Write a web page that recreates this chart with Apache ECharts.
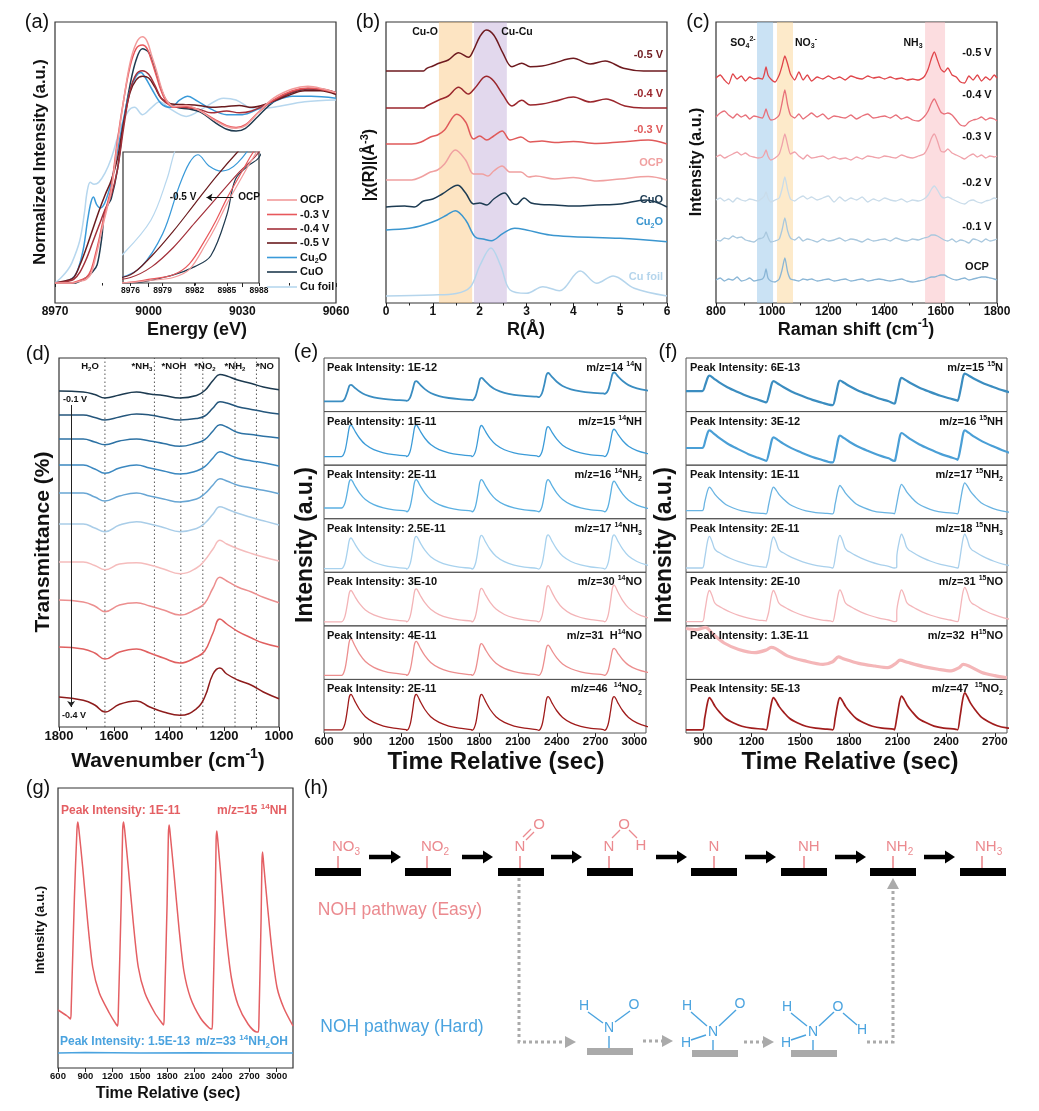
<!DOCTYPE html>
<html>
<head>
<meta charset="utf-8">
<script src="https://cdn.jsdelivr.net/npm/echarts@6/dist/echarts.min.js"></script>
<style>
  html, body { margin: 0; background: #fff; }
  #main { width: 1039px; height: 1111px; }
</style>
</head>
<body>
<div id="main"></div>
<script>
const FONT = '"Liberation Sans", Arial, sans-serif'
const NARROW = '"Liberation Sans Narrow", "Liberation Sans", Arial, sans-serif'

// ---------- (a) XANES, [eV, normalized] ----------
const aNames = ['OCP', '-0.3 V', '-0.4 V', '-0.5 V', 'Cu_{2}O', 'CuO', 'Cu foil']
const aColors = ['#f29a9a', '#e8585c', '#a3303a', '#6a1b1e', '#3a9ad9', '#1f3a4f', '#b7d7ee']
const aOCP = [[8970,0],[8975,0],[8978,0.01],[8980,0.02],[8981.5,0.05],[8983,0.14],[8984,0.21],[8985,0.29],[8986,0.36],[8987,0.43],[8988,0.5],[8990,0.76],[8992,1.0],[8994,1.2],[8996,1.31],[8998,1.345],[8999.5,1.32],[9001,1.24],[9002.5,1.16],[9004,1.07],[9005.7,1.0],[9008,0.965],[9012,0.97],[9016,0.945],[9021,0.89],[9025,0.855],[9028,0.845],[9031,0.86],[9035,0.93],[9040,1.01],[9046,1.06],[9051,1.075],[9056,1.06],[9060,1.04]]
const aM03 = [[8970,0],[8975,0],[8978,0.015],[8980,0.03],[8981.5,0.07],[8983,0.16],[8984,0.23],[8985,0.31],[8986,0.38],[8987,0.45],[8988,0.52],[8990,0.78],[8992,1.0],[8994,1.18],[8996,1.28],[8998,1.30],[8999.5,1.28],[9001,1.21],[9002.5,1.13],[9004,1.05],[9005.7,0.99],[9008,0.96],[9012,0.965],[9016,0.945],[9021,0.895],[9025,0.86],[9028,0.85],[9031,0.865],[9035,0.93],[9040,1.0],[9046,1.05],[9051,1.065],[9056,1.055],[9060,1.04]]
const aM04 = [[8970,0],[8974,0.01],[8976,0.02],[8978,0.06],[8980,0.13],[8982,0.22],[8984,0.31],[8986,0.40],[8988,0.48],[8990,0.62],[8992,0.85],[8994,1.05],[8996,1.14],[8998,1.16],[9000,1.14],[9002,1.08],[9004,1.01],[9007,0.97],[9011,0.96],[9016,0.95],[9020,0.93],[9025,0.94],[9029,0.93],[9033,0.94],[9038,0.98],[9044,1.03],[9050,1.06],[9055,1.06],[9060,1.04]]
const aM05 = [[8970,0],[8974,0.015],[8976,0.03],[8978,0.1],[8980,0.19],[8982,0.29],[8984,0.39],[8986,0.48],[8988,0.56],[8990,0.68],[8992,0.88],[8994,1.04],[8996,1.11],[8998,1.13],[9000,1.12],[9002,1.07],[9004,1.01],[9007,0.98],[9011,0.975],[9016,0.97],[9020,0.96],[9025,0.965],[9029,0.97],[9033,0.96],[9038,0.98],[9044,1.02],[9050,1.05],[9055,1.05],[9060,1.03]]
const aCu2O = [[8970,0],[8975,0.02],[8977,0.06],[8979,0.18],[8980.5,0.35],[8981.5,0.44],[8982.3,0.47],[8983.3,0.43],[8984.5,0.41],[8986,0.44],[8988,0.55],[8990,0.72],[8992,0.9],[8994,1.05],[8996,1.13],[8997.5,1.15],[8999,1.12],[9001,1.06],[9004,0.98],[9007,0.96],[9010,1.0],[9012.5,1.02],[9015,1.0],[9020,0.95],[9025,0.92],[9030,0.92],[9035,0.95],[9040,0.99],[9046,1.02],[9052,1.02],[9060,1.01]]
const aCuO = [[8970,0],[8976,0],[8980,0.03],[8982,0.06],[8983.5,0.1],[8985,0.25],[8985.8,0.38],[8987,0.43],[8988,0.46],[8990,0.62],[8992,0.88],[8994,1.08],[8996,1.22],[8998,1.28],[9000,1.26],[9002,1.17],[9004,1.06],[9006,0.99],[9009,0.96],[9013,0.95],[9017,0.93],[9021,0.88],[9025,0.84],[9028,0.83],[9031,0.845],[9035,0.91],[9040,0.99],[9046,1.04],[9051,1.06],[9056,1.055],[9060,1.04]]
const aCuFoil = [[8970,0],[8972,0.03],[8974,0.07],[8975.4,0.11],[8977.9,0.23],[8979.4,0.38],[8980.3,0.5],[8981.3,0.55],[8982.5,0.54],[8984,0.55],[8986,0.6],[8988,0.68],[8991,0.85],[8993.5,0.94],[8995.5,0.96],[8998,0.92],[9001,0.96],[9003.5,0.99],[9007,0.95],[9012,0.91],[9018,0.96],[9024,1.01],[9028,1.0],[9034,0.95],[9040,0.96],[9050,0.99],[9060,1.0]]
const aCurves = [aOCP, aM03, aM04, aM05, aCu2O, aCuO, aCuFoil]
const aInsetTicks = [8976, 8979, 8982, 8985, 8988]

// ---------- (b) FT-EXAFS, [R, height above own baseline] ----------
const bNames = ['-0.5 V', '-0.4 V', '-0.3 V', 'OCP', 'CuO', 'Cu_{2}O', 'Cu foil']
const bColors = ['#6e1a1f', '#9a262c', '#e05a5a', '#f0a0a0', '#1d3b52', '#3b96cf', '#b5d5ec']
const bOffsets = [232, 195, 159, 123, 96, 63, 7]
const bM05 = [[0,0],[0.8,0],[0.87,2.7],[1.0,5],[1.13,7.7],[1.33,11],[1.55,18.3],[1.76,13.7],[1.87,21],[2.0,34],[2.14,41],[2.3,36],[2.5,17.7],[2.69,4.3],[2.9,7.7],[3.08,4.3],[3.33,5],[3.58,7.7],[4.0,12.7],[4.36,7],[4.68,10],[5.07,2.7],[5.5,0],[6,0]]
const bM04 = [[0,0],[0.8,0],[0.87,2],[1.13,8],[1.33,12],[1.55,20.7],[1.76,14],[1.9,20],[2.14,31.7],[2.3,27],[2.5,13],[2.69,2],[2.9,7.7],[3.08,3],[3.33,4],[3.6,6.7],[4.0,11],[4.36,6],[4.7,9],[5.1,2],[5.5,0],[6,0]]
const bM03 = [[0,0],[0.55,0],[0.75,2],[0.95,7],[1.1,9],[1.25,14],[1.51,29.7],[1.7,22],[1.87,5],[2.0,8],[2.15,4],[2.3,8],[2.48,13],[2.65,4],[2.88,7],[3.08,2],[3.33,3],[3.6,1.5],[4.0,2.5],[4.5,0.5],[5.0,2],[5.6,4],[6,0]]
const bOCP = [[0,0],[0.55,0],[0.75,3],[0.95,8],[1.1,10],[1.25,16],[1.48,30],[1.7,20],[1.87,6],[2.05,6],[2.18,4],[2.3,9],[2.48,14],[2.65,8],[2.88,8],[3.05,3],[3.2,4],[3.6,1],[4.0,2.5],[4.5,-1],[5.0,1],[5.6,3.5],[6,0]]
const bCuO = [[0,0],[0.4,1],[0.6,0],[0.8,6],[1.0,8],[1.2,13],[1.53,21.7],[1.7,14],[1.87,3],[2.0,4],[2.15,2],[2.3,8],[2.53,14],[2.7,4],[2.78,2.5],[2.95,9],[3.1,4],[3.3,2.5],[3.6,2],[4.0,1],[4.5,2],[5.0,3],[5.55,7],[6,0]]
const bCu2O = [[0,10],[0.5,11.7],[0.8,15],[1.1,20],[1.3,25],[1.48,29.3],[1.7,20],[1.9,3.3],[2.1,0.7],[2.25,-0.7],[2.5,6.7],[2.75,11.7],[3.0,10],[3.5,5],[4.0,3.3],[5.0,1.7],[6,-1.7]]
const bCuFoil = [[0,0],[1,1],[1.5,2.5],[1.8,9],[2.0,30],[2.24,48],[2.45,30],[2.65,6],[3.0,2.7],[3.35,9.3],[3.7,5.3],[4.15,25],[4.5,12.7],[4.85,20],[5.3,7.7],[6,0]]
const bCurves = [bM05, bM04, bM03, bOCP, bCuO, bCu2O, bCuFoil]
const bLabelY = [55, 94, 130, 163, 200, 222, 277]

// ---------- (c) Raman ----------
const cX = [800,815,830,845,860,875,890,905,920,935, 950,965,972,978,985,995,1010,1025,1035,1045, 1055,1065,1080,1095,1110,1125,1140,1160,1180,1200, 1220,1240,1260,1280,1300,1320,1340,1360,1380,1400, 1420,1440,1460,1480,1500,1520,1540,1555,1567,1577, 1588,1600,1612,1625,1640,1655,1670,1685,1700,1715, 1730,1745,1760,1775,1790,1800]
const cNames = ['-0.5 V', '-0.4 V', '-0.3 V', '-0.2 V', '-0.1 V', 'OCP']
const cColors = ['#e0454a', '#e8707a', '#f0a2aa', '#c9dcea', '#a9c8de', '#8ab6d6']
const cOffsets = [225, 186, 146, 103, 63, 23]
const cM05 = [0,3,-2,-6,4,-1,2,-3,1,-1, 0,-1,4,11,3,-1,-4,3,12,22, 14,4,-2,6,-2,3,-3,1,-1,2, -1,1,-2,2,0,-1,2,0,1,-1, 1,-1,0,-2,-1,-2,1,9,20,26, 18,9,6,10,3,1,-4,-5,2,-2, 3,-3,1,-2,3,0]
const cM04 = [0,4,6,2,-1,3,0,2,-2,1, 0,-1,3,8,2,-3,-2,2,14,27, 12,2,-1,3,-2,1,4,0,3,-2, 1,0,-1,2,-2,1,3,-1,0,1, -1,2,-2,0,-3,-4,0,6,14,18, 12,5,3,4,2,-3,-8,-9,-5,-3, -2,0,-3,-1,-2,-4]
const cM03 = [0,2,-1,1,3,5,2,4,1,0, -1,0,3,7,1,-3,-1,3,12,23, 12,3,5,1,-2,2,-1,0,1,-2, 0,-2,-1,-3,0,-2,1,0,-1,1, 0,-1,2,0,-1,1,3,10,19,23, 16,6,5,8,4,2,0,-2,1,3, 0,2,-1,1,0,1]
const cM02 = [0,2,-1,1,-2,2,0,-1,1,0, -1,2,4,8,2,-2,0,2,11,23, 10,1,-1,2,4,1,3,0,2,4, -2,3,-1,2,0,3,-2,1,-1,2, 0,-1,1,-2,0,-1,1,5,11,14, 10,4,2,3,1,-1,-3,-4,-1,0, -2,-3,-1,0,2,1]
const cM01 = [0,-1,2,1,4,2,3,0,-1,-2, 1,2,4,8,3,-2,-1,1,10,22, 9,2,0,3,-1,1,0,-2,1,-1, 0,2,-1,1,0,-2,1,-1,0,1, -1,2,0,-1,1,0,2,3,5,5, 4,2,0,-1,1,-2,0,-1,-3,1, 0,-2,1,-1,0,1]
const cOCP = [0,2,-1,1,0,3,-1,0,2,-1, 0,1,4,11,2,-1,-2,1,10,22, 8,1,0,-1,1,0,1,-1,0,1, -1,0,1,-1,0,1,-1,0,1,0, -1,0,1,-1,-2,-1,0,2,3,3, 4,5,5,3,1,0,1,2,0,1, 2,3,3,2,1,0]
const cCurves = [cM05, cM04, cM03, cM02, cM01, cOCP]
const cLabelY = [53, 95, 137, 183, 227, 267]

// ---------- (d) in-situ IR ----------
const dX = [1800,1712,1670,1633,1580,1518,1470,1420,1360,1300,1270,1240,1215,1190,1150,1100,1057,1000]
const dColors = ['#1c3a50', '#24567c', '#2d72a4', '#3b88c0', '#68a6d4', '#a9cde8', '#f5bcbc', '#ec8f8f', '#e06060', '#8e1c1c']
const dOffsets = [336, 312, 288, 262, 234, 203, 165, 127, 80, 30]
const dCurves = [
  [0,-1,-3.5,-7,-4,-1,-3,-4.5,-7,-4.5,0.5,10.5,16.5,15,11,7.5,4,1.3],
  [0,0,-2.5,-5,-2,1,0,-2.5,-5,-3.5,-1,7,13.3,12,8.3,5.5,3.3,1],
  [0,0,-3,-5.7,-2,0,-2,-4.5,-7.3,-4,-0.7,8,14.3,12,6.5,4.5,2.7,1],
  [0,0,-4,-8.3,-3,0,-3,-6,-9,-6,-1.7,7,13.3,11,6.7,4,2.3,-1],
  [0,0,-4,-8,-3,0,-3,-6,-9,-6,-0.7,8,14.3,12,7.7,5,2.7,-0.7],
  [0,0,-4,-7.7,-1,2.3,0,-3.5,-7.7,-4.5,0.7,10,17.3,15,10.7,6.5,3.3,-1],
  [0,0,-3.5,-7.7,-2,-0.7,-3,-7,-11.7,-6,1.7,13,21.7,18,13.3,8.5,5,1],
  [0,-2,-6,-11.7,-5,-2.7,-6,-10,-15,-9,-3.3,12,22.7,19,13,8,2.7,-2.7],
  [0,-2,-6,-12,-5,-2,-6,-11,-16,-10,-4,14,28,23,15.7,9,4,0],
  [0,-3.3,-8,-15,-7.3,-4,-10,-15,-18.3,-11.7,0,23,29,23,17,11.7,5,-1.7],
]
const dMarks = [1633, 1453, 1357, 1277, 1160, 1082]
const dMarkNames = ['H_{2}O', '*NH_{3}', '*NOH', '*NO_{2}', '*NH_{2}', '*NO']

// ---------- (e) 14N isotope mass spectra ----------
const eShape = [[-70,0],[-45,0.15],[-25,0.55],[-12,0.88],[-4,0.98],[4,1],[15,0.95],[35,0.8],[70,0.58],[115,0.38],[180,0.22],[255,0.12],[335,0.06],[430,0.02]]
const eTimes = [805, 1310, 1815, 2330, 2840]
const eColors = ['#3a8dc1', '#3b9bd8', '#5bb0e2', '#a8d2ee', '#f3b3b6', '#ec8e8e', '#a01b1b']
const ePeaks = [
  [0.5, 0.57, 0.63, 0.72, 0.73],
  [0.75, 0.75, 0.74, 0.72, 0.67],
  [0.73, 0.73, 0.73, 0.73, 0.7],
  [0.64, 0.67, 0.69, 0.7, 0.7],
  [0.66, 0.69, 0.7, 0.75, 0.76],
  [0.76, 0.71, 0.67, 0.64, 0.58],
  [0.72, 0.72, 0.72, 0.68, 0.68],
]
const eLevels = [
  [0.19, 0.2, 0.21, 0.27, 0.33, 0.35],
  [0.16, 0.16, 0.16, 0.16, 0.16, 0.16],
  [0.2, 0.13, 0.13, 0.13, 0.13, 0.13],
  [0.07, 0.06, 0.06, 0.06, 0.06, 0.06],
  [0.075, 0.075, 0.075, 0.075, 0.075, 0.075],
  [0.075, 0.075, 0.075, 0.075, 0.075, 0.075],
  [0.06, 0.05, 0.05, 0.05, 0.05, 0.05],
]
const eLeft = ['1E-12', '1E-11', '2E-11', '2.5E-11', '3E-10', '4E-11', '2E-11']
const eRight = ['m/z=14 ^{14}N', 'm/z=15 ^{14}NH', 'm/z=16 ^{14}NH_{2}', 'm/z=17 ^{14}NH_{3}', 'm/z=30 ^{14}NO', 'm/z=31  H^{14}NO', 'm/z=46  ^{14}NO_{2}']

// ---------- (f) 15N isotope mass spectra ----------
const fShapeBroad = [[-45,0],[-25,0.45],[-10,0.9],[0,1],[25,0.9],[60,0.75],[110,0.57],[170,0.4],[240,0.22],[300,0.1],[340,0.02]]
const fShape = [[-45,0],[-30,0.35],[-12,0.85],[0,1],[15,0.9],[35,0.72],[62,0.55],[100,0.35],[146,0.22],[200,0.11],[260,0.05],[330,0.02]]
const fShapeKink = [[-45,0],[-30,0.3],[-12,0.85],[0,1],[15,0.85],[30,0.62],[45,0.53],[60,0.49],[90,0.4],[130,0.3],[180,0.2],[240,0.11],[300,0.05],[350,0.02]]
const fTimes = [940, 1335, 1745, 2125, 2515]
const fColors = ['#3b8dc0', '#4a9fd6', '#6ab4e2', '#a9d0ec', '#f4b6ba', '#f4b6b8', '#a11d1d']
const fPeaks = [
  [0.67, 0.57, 0.58, 0.63, 0.71],
  [0.65, 0.52, 0.55, 0.6, 0.65],
  [0.59, 0.59, 0.62, 0.64, 0.67],
  [0.67, 0.66, 0.69, 0.71, 0.71],
  [0.66, 0.66, 0.67, 0.67, 0.72],
  null,
  [0.66, 0.66, 0.66, 0.69, 0.75],
]
const fLevels = [
  [0.38, 0.17, 0.12, 0.15, 0.2, 0.3],
  [0.32, 0.08, 0.05, 0.08, 0.1, 0.16],
  [0.15, 0.09, 0.09, 0.09, 0.09, 0.1],
  [0.08, 0.08, 0.08, 0.08, 0.08, 0.08],
  [0.08, 0.08, 0.08, 0.08, 0.08, 0.08],
  null,
  [0.06, 0.06, 0.06, 0.06, 0.06, 0.06],
]
const fH15NO = [[795,0.95],[860,0.93],[915,0.97],[960,0.85],[1030,0.68],[1120,0.56],[1220,0.5],[1290,0.55],[1320,0.6],[1345,0.58],[1420,0.44],[1520,0.35],[1640,0.28],[1700,0.33],[1735,0.42],[1770,0.38],[1860,0.3],[1960,0.25],[2040,0.22],[2090,0.3],[2115,0.36],[2160,0.32],[2260,0.24],[2350,0.19],[2430,0.16],[2480,0.22],[2505,0.28],[2540,0.25],[2620,0.13],[2700,0.07],[2775,0.03]]
const fLeft = ['6E-13', '3E-12', '1E-11', '2E-11', '2E-10', '1.3E-11', '5E-13']
const fRight = ['m/z=15 ^{15}N', 'm/z=16 ^{15}NH', 'm/z=17 ^{15}NH_{2}', 'm/z=18 ^{15}NH_{3}', 'm/z=31 ^{15}NO', 'm/z=32  H^{15}NO', 'm/z=47  ^{15}NO_{2}']
const fTicks = [900, 1200, 1500, 1800, 2100, 2400, 2700]

// ---------- (g) NH vs NH2OH ----------
const gRed = [[600,58],[700,52],[738,49],[745,60],[780,170],[808,238],[818,246],[830,238],[872,200],[927,145],[981,101],[1054,75],[1163,55],[1229,45],[1255,42],
  [1262,55],[1295,170],[1310,238],[1320,246],[1332,238],[1372,200],[1427,145],[1481,101],[1554,75],[1663,55],[1740,45],[1760,43],
  [1767,55],[1798,165],[1812,234],[1821,243],[1833,233],[1873,195],[1928,140],[1982,97],[2055,70],[2164,50],[2260,40],[2290,39],
  [2297,50],[2325,160],[2336,228],[2344,237],[2356,226],[2395,185],[2450,130],[2504,90],[2577,63],[2686,44],[2780,36],[2800,36],
  [2806,48],[2830,150],[2839,206],[2846,216],[2858,204],[2897,165],[2952,115],[3006,80],[3079,60],[3180,42]]
const gBlue = [[600,15],[900,15.5],[1500,15],[2100,15.3],[2700,15],[3180,15]]

// ---------- helpers ----------
function rt(str, size, weight, family, color) {
  const base = { fontSize: size, fontWeight: weight, fontFamily: family, fill: color, lineHeight: Math.round(size * 1.35) }
  const small = Object.assign({}, base, { fontSize: Math.round(size * 0.68), lineHeight: Math.round(size * 0.72) })
  const rich = { n: base, p: Object.assign({}, small, { verticalAlign: 'top' }), b: Object.assign({}, small, { verticalAlign: 'bottom' }) }
  const re = /([\^_])\{([^}]*)\}/g
  let out = ''
  let last = 0
  let m
  while ((m = re.exec(str))) {
    if (m.index > last) out += '{n|' + str.slice(last, m.index) + '}'
    out += '{' + (m[1] === '^' ? 'p' : 'b') + '|' + m[2] + '}'
    last = re.lastIndex
  }
  if (last < str.length) out += '{n|' + str.slice(last) + '}'
  return { text: out, rich }
}

const graphics = []
function T(x, y, str, o = {}) {
  const size = o.size || 12
  const weight = o.weight || 'normal'
  const family = o.family || FONT
  const color = o.color || '#111'
  const r = rt(str, size, weight, family, color)
  graphics.push({
    type: 'text', x, y, rotation: o.rot || 0, z: 100, silent: true,
    style: {
      text: r.text, rich: r.rich, fill: color, fontSize: size, fontWeight: weight, fontFamily: family,
      align: o.align || 'center', verticalAlign: 'middle', textAlign: o.align || 'center', textVerticalAlign: 'middle',
    },
  })
}
function L(x1, y1, x2, y2, color, w, dash) {
  graphics.push({ type: 'line', z: 100, silent: true, shape: { x1, y1, x2, y2 }, style: { stroke: color, lineWidth: w, lineDash: dash || null } })
}
function R(x, y, w, h, color) {
  graphics.push({ type: 'rect', z: 100, silent: true, shape: { x, y, width: w, height: h }, style: { fill: color } })
}
function P(points, color) {
  graphics.push({ type: 'polygon', z: 100, silent: true, shape: { points }, style: { fill: color } })
}

const grids = []
const xAxes = []
const yAxes = []
const series = []
const fmt = v => String(v)

function addGrid(box, xa, ya) {
  grids.push(Object.assign({ show: true, borderColor: '#333', borderWidth: 1.2, backgroundColor: 'transparent', containLabel: false }, box))
  const gi = grids.length - 1
  xAxes.push(Object.assign({ gridIndex: gi, type: 'value', splitLine: { show: false }, axisLine: { show: false } }, xa))
  yAxes.push(Object.assign({ gridIndex: gi, type: 'value', splitLine: { show: false }, axisLine: { show: false }, axisTick: { show: false }, axisLabel: { show: false } }, ya))
  return gi
}
function xTicks(min, max, interval, size, family, extra) {
  return Object.assign({
    min, max, interval,
    axisTick: { show: true, length: 4, lineStyle: { color: '#222', width: 1 } },
    minorTick: { show: true, splitNumber: 2, length: 2.5, lineStyle: { color: '#222' } },
    axisLabel: { color: '#111', fontWeight: 'bold', fontSize: size, fontFamily: family || FONT, margin: 3, formatter: fmt },
  }, extra || {})
}
function line(gi, data, color, width, o) {
  series.push(Object.assign({
    type: 'line', xAxisIndex: gi, yAxisIndex: gi, data, showSymbol: false, symbol: 'none', smooth: 0.35,
    lineStyle: { color, width }, silent: true, animation: false,
  }, o || {}))
}
function bands(gi, y0, list, z) {
  series.push({
    type: 'line', xAxisIndex: gi, yAxisIndex: gi, data: [[list[0][0], y0]], symbol: 'none', lineStyle: { opacity: 0 }, z: z || 5, silent: true,
    markArea: { silent: true, data: list.map(b => [{ xAxis: b[0], itemStyle: { color: b[2] } }, { xAxis: b[1] }]) },
  })
}
function buildPeaks(times, peaks, levels, shape, xmin) {
  const pts = [[xmin, levels[0]]]
  times.forEach((t, i) => {
    shape.forEach(([dt, r]) => {
      const base = dt < 0 ? levels[i] : levels[i + 1]
      pts.push([t + dt, base + (peaks[i] - base) * r])
    })
  })
  return pts.sort((a, b) => a[0] - b[0])
}

// ---------- panel (a) ----------
const gA = addGrid({ left: 55, top: 22, width: 281, height: 281 },
  xTicks(8970, 9060, 30, 12), { min: -0.109, max: 1.426 })
const gAi = addGrid({ left: 123, top: 152, width: 136, height: 131, backgroundColor: '#fff' },
  { min: 8975.3, max: 8988,
    axisTick: { show: true, length: 3, customValues: aInsetTicks, lineStyle: { color: '#222' } },
    axisLabel: { show: true, customValues: aInsetTicks, color: '#111', fontWeight: 'bold', fontSize: 8.5, fontFamily: FONT, margin: 3, formatter: fmt } },
  { min: 0, max: 0.48 })
for (let i = aCurves.length - 1; i >= 0; i--) {
  line(gA, aCurves[i], aColors[i], 1.5)
  line(gAi, aCurves[i], aColors[i], 1.2, { z: 3 })
}
series.push({
  type: 'lines', coordinateSystem: 'cartesian2d', xAxisIndex: gAi, yAxisIndex: gAi, z: 6, silent: true,
  symbol: ['none', 'arrow'], symbolSize: 6, lineStyle: { color: '#111', width: 1.2, opacity: 1 },
  data: [{ coords: [[8985.6, 0.313], [8983.1, 0.313]] }],
})
T(183, 197, '-0.5 V', { size: 10, weight: 'bold' })
T(249, 197, 'OCP', { size: 10, weight: 'bold' })
const aLegY = [200, 214.5, 229, 243, 257.5, 272, 287]
aNames.forEach((n, i) => {
  L(267, aLegY[i], 297, aLegY[i], aColors[i], 1.6)
  T(300, aLegY[i], n, { size: 11, weight: 'bold', align: 'left' })
})
T(37, 22, '(a)', { size: 20 })
T(40, 162, 'Normalized Intensity (a.u.)', { size: 16.5, weight: 'bold', rot: Math.PI / 2 })
T(197, 330, 'Energy (eV)', { size: 18, weight: 'bold' })

// ---------- panel (b) ----------
const gB = addGrid({ left: 386, top: 22, width: 281, height: 281 }, xTicks(0, 6, 1, 12), { min: 0, max: 281 })
bCurves.forEach((c, i) => line(gB, c.map(p => [p[0], bOffsets[i] + p[1]]), bColors[i], 1.5))
bands(gB, 0, [[1.13, 1.84, 'rgba(250,196,120,0.45)'], [1.88, 2.58, 'rgba(190,168,214,0.45)']])
bNames.forEach((n, i) => T(663, bLabelY[i], n, { size: 11, weight: 'bold', color: bColors[i], align: 'right' }))
T(425, 32, 'Cu-O', { size: 10.5, weight: 'bold' })
T(517, 32, 'Cu-Cu', { size: 10.5, weight: 'bold' })
T(368, 22, '(b)', { size: 20 })
T(370, 165, '|χ(R)|(Å^{-3})', { size: 16, weight: 'bold', rot: Math.PI / 2 })
T(526, 330, 'R(Å)', { size: 18, weight: 'bold' })

// ---------- panel (c) ----------
const gC = addGrid({ left: 716, top: 22, width: 281, height: 281 }, xTicks(800, 1800, 200, 12), { min: 0, max: 281 })
cCurves.forEach((c, i) => line(gC, cX.map((x, j) => [x, cOffsets[i] + c[j]]), cColors[i], 1.3, { smooth: 0.2 }))
bands(gC, 0, [[946, 1003, 'rgba(150,198,234,0.5)'], [1017, 1074, 'rgba(252,214,150,0.5)'], [1544, 1615, 'rgba(250,188,194,0.5)']])
cNames.forEach((n, i) => T(977, cLabelY[i], n, { size: 11, weight: 'bold' }))
T(743, 43, 'SO_{4}^{2-}', { size: 10.5, weight: 'bold' })
T(806, 43, 'NO_{3}^{-}', { size: 10.5, weight: 'bold' })
T(913, 43, 'NH_{3}', { size: 10.5, weight: 'bold' })
T(698, 22, '(c)', { size: 20 })
T(697, 162, 'Intensity (a.u.)', { size: 16, weight: 'bold', rot: Math.PI / 2 })
T(856, 330, 'Raman shift (cm^{-1})', { size: 18, weight: 'bold' })

// ---------- panel (d) ----------
const gD = addGrid({ left: 59, top: 358, width: 220, height: 369 },
  xTicks(1000, 1800, 200, 13, FONT, { inverse: true }), { min: 0, max: 369 })
dMarks.forEach(w => line(gD, [[w, 0], [w, 369]], '#444', 0.9, { smooth: false, lineStyle: { color: '#444', width: 0.9, type: [1.5, 2.5] } }))
dCurves.forEach((c, i) => line(gD, dX.map((x, j) => [x, dOffsets[i] + c[j]]), dColors[i], 1.5, { smooth: 0.45 }))
series.push({
  type: 'lines', coordinateSystem: 'cartesian2d', xAxisIndex: gD, yAxisIndex: gD, z: 6, silent: true,
  symbol: ['none', 'arrow'], symbolSize: 6, lineStyle: { color: '#222', width: 1, opacity: 1 },
  data: [{ coords: [[1756, 322], [1756, 20]] }],
})
const dLabX = [90, 142, 174, 205, 235, 265]
dMarkNames.forEach((n, i) => T(dLabX[i], 366, n, { size: 9.5, weight: 'bold' }))
T(63, 400, '-0.1 V', { size: 9, weight: 'bold', align: 'left' })
T(62, 716, '-0.4 V', { size: 9, weight: 'bold', align: 'left' })
T(38, 354, '(d)', { size: 20 })
T(43, 542, 'Transmittance (%)', { size: 21, weight: 'bold', rot: Math.PI / 2 })
T(168, 761, 'Wavenumber (cm^{-1})', { size: 21, weight: 'bold' })

// ---------- panels (e) and (f) ----------
const subH = 375 / 7
for (let i = 0; i < 7; i++) {
  const top = 358 + i * subH
  const last = i === 6
  const ge = addGrid({ left: 324, top, width: 322, height: subH, borderColor: '#555', borderWidth: 1 },
    last ? xTicks(600, 3090, 300, 11.5, NARROW, { minorTick: { show: false } })
      : { min: 600, max: 3090, axisTick: { show: false }, axisLabel: { show: false } },
    { min: 0, max: 1 })
  line(ge, buildPeaks(eTimes, ePeaks[i], eLevels[i], eShape, 600), eColors[i], i === 0 ? 1.8 : 1.3, { smooth: 0.3 })
  T(327, top + 10, 'Peak Intensity: ' + eLeft[i], { size: 11, weight: 'bold', family: NARROW, align: 'left' })
  T(642, top + 10, eRight[i], { size: 11, weight: 'bold', family: NARROW, align: 'right' })

  const gf = addGrid({ left: 686, top, width: 321, height: subH, borderColor: '#555', borderWidth: 1 },
    last ? { min: 795, max: 2775,
      axisTick: { show: true, length: 4, customValues: fTicks, lineStyle: { color: '#222' } },
      axisLabel: { show: true, customValues: fTicks, color: '#111', fontWeight: 'bold', fontSize: 11.5, fontFamily: NARROW, margin: 3, formatter: fmt } }
      : { min: 795, max: 2775, axisTick: { show: false }, axisLabel: { show: false } },
    { min: 0, max: 1 })
  let fData
  if (i === 5) fData = fH15NO
  else {
    const shape = i < 2 ? fShapeBroad : (i === 3 || i === 4) ? fShapeKink : fShape
    fData = buildPeaks(fTimes, fPeaks[i], fLevels[i], shape, 795)
  }
  const fw = i === 5 ? 3.2 : (i < 2 ? 2.2 : (i === 6 ? 1.7 : 1.3))
  line(gf, fData, fColors[i], fw, { smooth: 0.3 })
  T(690, top + 10, 'Peak Intensity: ' + fLeft[i], { size: 11, weight: 'bold', family: NARROW, align: 'left' })
  T(1003, top + 10, fRight[i], { size: 11, weight: 'bold', family: NARROW, align: 'right' })
}
T(306, 352, '(e)', { size: 20 })
T(668, 352, '(f)', { size: 20 })
T(306, 545, 'Intensity (a.u.)', { size: 23, weight: 'bold', rot: Math.PI / 2 })
T(665, 545, 'Intensity (a.u.)', { size: 23, weight: 'bold', rot: Math.PI / 2 })
T(496, 762, 'Time Relative (sec)', { size: 24, weight: 'bold', family: NARROW })
T(850, 762, 'Time Relative (sec)', { size: 24, weight: 'bold', family: NARROW })

// ---------- panel (g) ----------
const gG = addGrid({ left: 58, top: 788, width: 235, height: 280 },
  xTicks(600, 3180, 300, 9.5, NARROW, { minorTick: { show: false } }), { min: 0, max: 280 })
line(gG, gRed, '#e45f63', 1.5, { smooth: 0.25 })
line(gG, gBlue, '#4aa3df', 1.5, { smooth: false })
T(61, 811, 'Peak Intensity: 1E-11', { size: 12, weight: 'bold', family: NARROW, color: '#e45f63', align: 'left' })
T(287, 811, 'm/z=15 ^{14}NH', { size: 12, weight: 'bold', family: NARROW, color: '#e45f63', align: 'right' })
T(60, 1042, 'Peak Intensity: 1.5E-13', { size: 12, weight: 'bold', family: NARROW, color: '#4aa3df', align: 'left' })
T(288, 1042, 'm/z=33 ^{14}NH_{2}OH', { size: 12, weight: 'bold', family: NARROW, color: '#4aa3df', align: 'right' })
T(38, 788, '(g)', { size: 20 })
T(40, 930, 'Intensity (a.u.)', { size: 13, weight: 'bold', rot: Math.PI / 2 })
T(168, 1094, 'Time Relative (sec)', { size: 16, weight: 'bold' })

// ---------- panel (h): reaction scheme ----------
const PINK = '#eb8a8f'
const BLUE = '#4aa3df'
const GREY = '#aaaaaa'
T(316, 788, '(h)', { size: 20 })
const hBarX = [315, 405, 498, 587, 691, 781, 870, 960]
hBarX.forEach(x => R(x, 868, 46, 8, '#000'))
const hArrowX = [[369, 401], [462, 493], [551, 582], [656, 687], [745, 776], [835, 866], [924, 955]]
hArrowX.forEach(([x1, x2]) => {
  L(x1, 857, x2 - 8, 857, '#000', 4.5)
  P([[x2 - 10, 850.5], [x2, 857], [x2 - 10, 863.5]], '#000')
})
;[338, 427, 609, 714, 804, 893, 982].forEach(x => L(x, 856, x, 868, PINK, 1.6))
L(520, 856, 520, 868, PINK, 1.6)
const hLab = { size: 15, family: NARROW, color: PINK, align: 'left' }
T(332, 847, 'NO_{3}', hLab)
T(421, 847, 'NO_{2}', hLab)
T(520, 847, 'N', Object.assign({}, hLab, { align: 'center' }))
L(523, 837, 531, 829, PINK, 1.3)
L(526, 840, 534, 832, PINK, 1.3)
T(539, 825, 'O', Object.assign({}, hLab, { align: 'center' }))
T(609, 847, 'N', Object.assign({}, hLab, { align: 'center' }))
L(612, 838, 620, 830, PINK, 1.3)
T(624, 825, 'O', Object.assign({}, hLab, { align: 'center' }))
L(629, 830, 637, 838, PINK, 1.3)
T(641, 846, 'H', Object.assign({}, hLab, { align: 'center' }))
T(714, 847, 'N', Object.assign({}, hLab, { align: 'center' }))
T(798, 847, 'NH', hLab)
T(886, 847, 'NH_{2}', hLab)
T(975, 847, 'NH_{3}', hLab)
T(400, 910, 'NOH pathway (Easy)', { size: 17.5, family: NARROW, color: PINK })
T(402, 1027, 'NOH pathway (Hard)', { size: 17.5, family: NARROW, color: BLUE })

// grey dotted detour
const dots = [3, 3]
graphics.push({ type: 'polyline', z: 100, silent: true, shape: { points: [[519, 878], [519, 1042], [565, 1042]] }, style: { stroke: GREY, lineWidth: 3, lineDash: dots, fill: null } })
P([[565, 1036], [576, 1042], [565, 1048]], GREY)
L(643, 1041, 662, 1041, GREY, 3, dots)
P([[662, 1035], [673, 1041], [662, 1047]], GREY)
L(744, 1042, 763, 1042, GREY, 3, dots)
P([[763, 1036], [774, 1042], [763, 1048]], GREY)
graphics.push({ type: 'polyline', z: 100, silent: true, shape: { points: [[867, 1042], [893, 1042], [893, 889]] }, style: { stroke: GREY, lineWidth: 3, lineDash: dots, fill: null } })
P([[887, 889], [893, 878], [899, 889]], GREY)
R(587, 1048, 46, 7, GREY)
R(692, 1050, 46, 7, GREY)
R(791, 1050, 46, 7, GREY)

const bl = { size: 14, family: NARROW, color: BLUE }
// molecule 1: H-N-O
T(584, 1006, 'H', bl); T(634, 1005, 'O', bl); T(609, 1028, 'N', bl)
L(588, 1012, 603, 1023, BLUE, 1.4); L(615, 1022, 630, 1011, BLUE, 1.4); L(609, 1036, 609, 1048, BLUE, 1.4)
// molecule 2: H2-N-O
T(687, 1006, 'H', bl); T(740, 1004, 'O', bl); T(713, 1032, 'N', bl); T(686, 1043, 'H', bl)
L(691, 1012, 707, 1026, BLUE, 1.4); L(719, 1026, 736, 1010, BLUE, 1.4); L(691, 1040, 706, 1035, BLUE, 1.4); L(713, 1040, 713, 1050, BLUE, 1.4)
// molecule 3: H2-N-O-H
T(787, 1007, 'H', bl); T(838, 1007, 'O', bl); T(813, 1032, 'N', bl); T(862, 1030, 'H', bl); T(786, 1043, 'H', bl)
L(791, 1013, 807, 1026, BLUE, 1.4); L(819, 1026, 834, 1012, BLUE, 1.4); L(843, 1013, 857, 1025, BLUE, 1.4)
L(791, 1040, 806, 1035, BLUE, 1.4); L(813, 1040, 813, 1050, BLUE, 1.4)

const chart = echarts.init(document.getElementById('main'), null, { renderer: 'canvas', width: 1039, height: 1111 })
chart.setOption({
  backgroundColor: '#ffffff',
  animation: false,
  grid: grids,
  xAxis: xAxes,
  yAxis: yAxes,
  series,
  graphic: { elements: graphics },
})
</script>
</body>
</html>
